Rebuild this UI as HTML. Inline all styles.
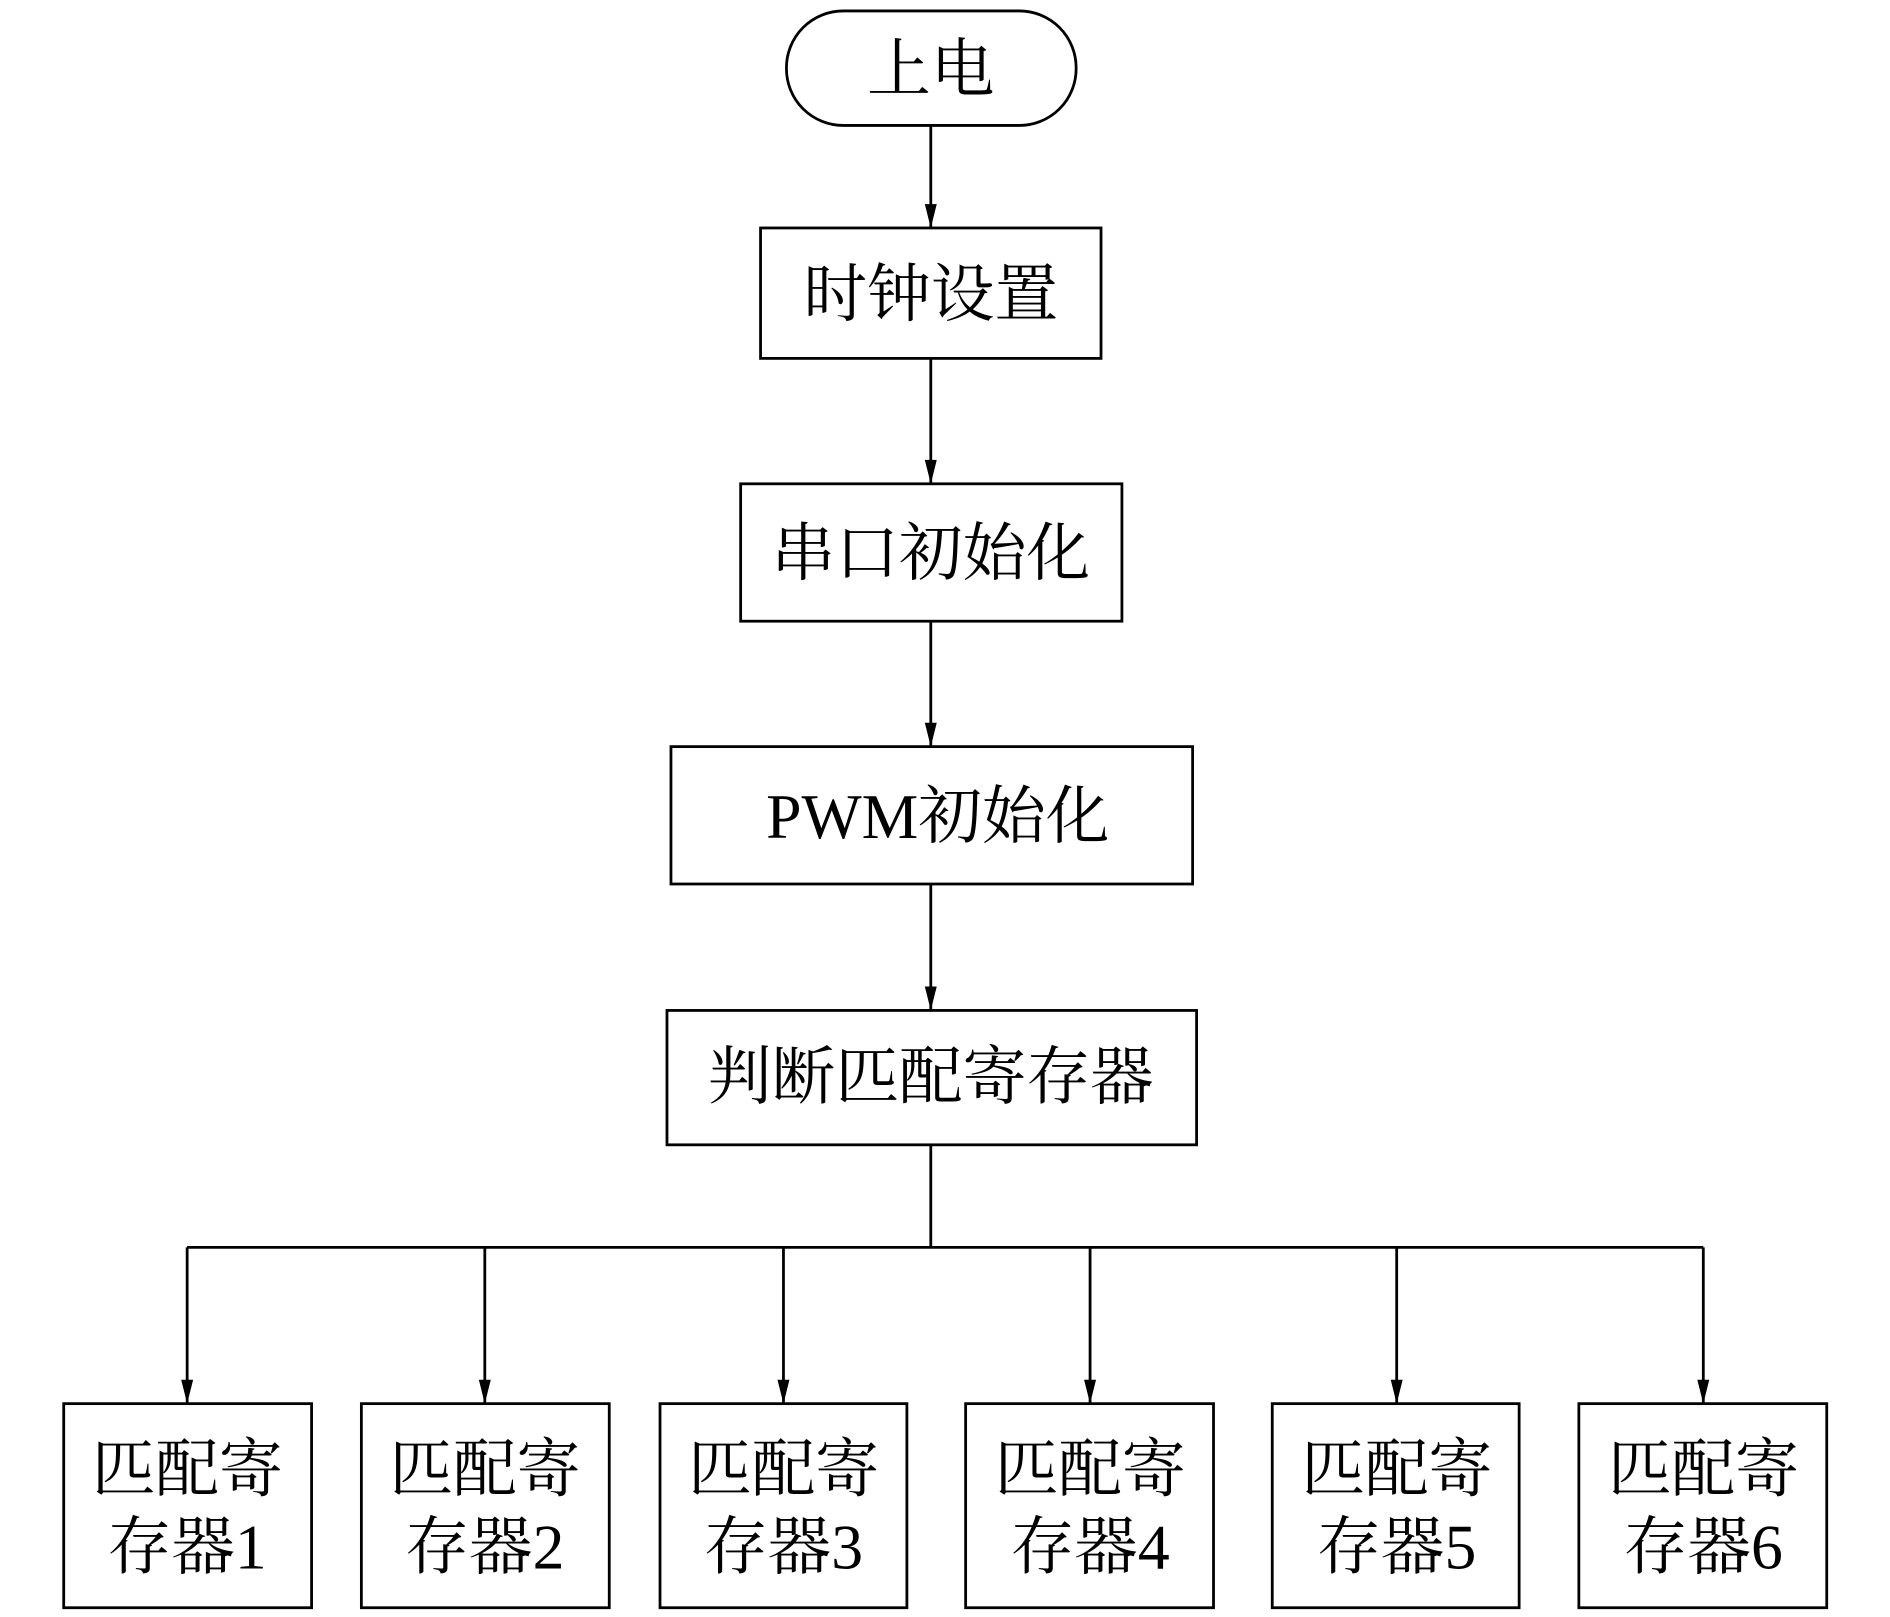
<!DOCTYPE html>
<html><head><meta charset="utf-8"><style>
html,body{margin:0;padding:0;background:#fff;}
svg{display:block}
text{font-family:"Liberation Serif","Noto Serif CJK SC",serif;font-size:64px;fill:#000;text-anchor:middle;dominant-baseline:central}
</style></head><body>
<svg width="1890" height="1617" viewBox="0 0 1890 1617" xmlns="http://www.w3.org/2000/svg">
<g transform="scale(0.9955)">
<g stroke="#000" stroke-width="2.8" fill="none">
<rect x="790" y="11" width="291" height="115" rx="57"/>
<rect x="764" y="229" width="342" height="131"/>
<rect x="744" y="486" width="383" height="138"/>
<rect x="674" y="750" width="524" height="138"/>
<rect x="670" y="1015" width="532" height="135"/>
<rect x="64" y="1410" width="249" height="205"/>
<rect x="363" y="1410" width="249" height="205"/>
<rect x="663" y="1410" width="248" height="205"/>
<rect x="970" y="1410" width="249" height="205"/>
<rect x="1278" y="1410" width="248" height="205"/>
<rect x="1586" y="1410" width="249" height="205"/>
<line x1="935" y1="126" x2="935" y2="229"/>
<line x1="935" y1="360" x2="935" y2="486"/>
<line x1="935" y1="624" x2="935" y2="750"/>
<line x1="935" y1="888" x2="935" y2="1015"/>
<line x1="935" y1="1150" x2="935" y2="1253"/>
<line x1="188" y1="1253" x2="1711" y2="1253"/>
<line x1="188" y1="1253" x2="188" y2="1410"/>
<line x1="487" y1="1253" x2="487" y2="1410"/>
<line x1="787" y1="1253" x2="787" y2="1410"/>
<line x1="1095" y1="1253" x2="1095" y2="1410"/>
<line x1="1403" y1="1253" x2="1403" y2="1410"/>
<line x1="1711" y1="1253" x2="1711" y2="1410"/>
</g>
<g fill="#000">
<path d="M929,205 L941,205 L935,229 Z"/>
<path d="M929,462 L941,462 L935,486 Z"/>
<path d="M929,726 L941,726 L935,750 Z"/>
<path d="M929,991 L941,991 L935,1015 Z"/>
<path d="M182,1386 L194,1386 L188,1410 Z"/>
<path d="M481,1386 L493,1386 L487,1410 Z"/>
<path d="M781,1386 L793,1386 L787,1410 Z"/>
<path d="M1089,1386 L1101,1386 L1095,1410 Z"/>
<path d="M1397,1386 L1409,1386 L1403,1410 Z"/>
<path d="M1705,1386 L1717,1386 L1711,1410 Z"/>
</g>
<text x="935" y="70">上电</text>
<text x="935" y="296">时钟设置</text>
<text x="935" y="556">串口初始化</text>
<text x="942" y="820">PWM初始化</text>
<text x="935" y="1082">判断匹配寄存器</text>
<g>
<text x="188" y="1476">匹配寄</text><text x="188" y="1554">存器1</text>
<text x="487" y="1476">匹配寄</text><text x="487" y="1554">存器2</text>
<text x="787" y="1476">匹配寄</text><text x="787" y="1554">存器3</text>
<text x="1095" y="1476">匹配寄</text><text x="1095" y="1554">存器4</text>
<text x="1403" y="1476">匹配寄</text><text x="1403" y="1554">存器5</text>
<text x="1711" y="1476">匹配寄</text><text x="1711" y="1554">存器6</text>
</g>
</g>
</svg>
</body></html>
